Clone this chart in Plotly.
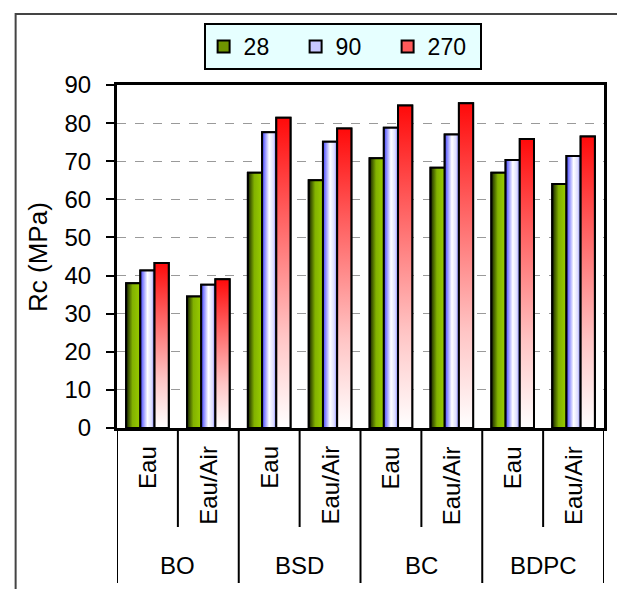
import plotly.graph_objects as go

# Compressive strength Rc (MPa) by concrete, curing condition and age (days)
groups = ["BO", "BSD", "BC", "BDPC"]
conditions = ["Eau", "Eau/Air"]
ages = ["28", "90", "270"]
rc_28 = [38.0, 34.5, 67.0, 65.0, 70.8, 68.3, 67.0, 64.0]
rc_90 = [41.3, 37.6, 77.6, 75.1, 78.8, 77.0, 70.3, 71.4]
rc_270 = [43.3, 39.0, 81.4, 78.6, 84.6, 85.2, 75.8, 76.5]
y_ticks = [0, 10, 20, 30, 40, 50, 60, 70, 80, 90]

series = [rc_28, rc_90, rc_270]
legend_colors = ["#6f9400", "#c8c8ff", "#ff5a5a"]
gradients = [
    dict(type="horizontal",
         colorscale=[[0, "#101800"], [0.15, "#3a5200"], [0.45, "#82b200"], [1, "#99cc00"]]),
    dict(type="horizontal",
         colorscale=[[0, "#4040ff"], [0.5, "#ffffff"], [0.8, "#dcdcff"], [1, "#7a7aff"]]),
    dict(type="vertical",
         colorscale=[[0, "#ffffff"], [0.3, "#ffc4c4"], [0.7, "#ff5c5c"], [1, "#ff0a0a"]]),
]

FONT = "Liberation Sans, Arial, sans-serif"
n_cat = len(groups) * len(conditions)
x_pos = list(range(n_cat))
bargap = 0.3
bar_w = (1 - bargap) / len(series)

fig = go.Figure()

# base bars (also provide the legend entries)
for k, (name, vals) in enumerate(zip(ages, series)):
    fig.add_trace(go.Bar(
        x=x_pos, y=vals, name=name,
        marker=dict(color=legend_colors[k], line=dict(color="black", width=2)),
        legendgroup=name,
    ))

# gradient-filled faces drawn over each bar
for k, vals in enumerate(series):
    off = (k - (len(series) - 1) / 2) * bar_w
    for i, v in zip(x_pos, vals):
        x0, x1 = i + off - bar_w / 2, i + off + bar_w / 2
        fig.add_trace(go.Scatter(
            x=[x0, x0, x1, x1, x0], y=[0, v, v, 0, 0],
            mode="lines", fill="toself",
            fillgradient=gradients[k],
            line=dict(color="black", width=2),
            showlegend=False, hoverinfo="skip", legendgroup=ages[k],
        ))

plot_h = 343.0
annotations = []
shapes = []

# first-level labels (curing condition), rotated
for i in x_pos:
    annotations.append(dict(
        text=conditions[i % 2], x=i, xref="x", y=-16 / plot_h, yref="paper",
        xanchor="center", yanchor="top", textangle=-90, showarrow=False,
        font=dict(family=FONT, size=24, color="black"),
    ))
# second-level labels (concrete)
for g, name in enumerate(groups):
    annotations.append(dict(
        text=name, x=2 * g + 0.5, xref="x", y=-137 / plot_h, yref="paper",
        xanchor="center", yanchor="middle", showarrow=False,
        font=dict(family=FONT, size=24, color="black"),
    ))
# y-axis title
annotations.append(dict(
    text="Rc (MPa)", x=-80 / 490, xref="paper", y=0.5, yref="paper",
    xanchor="center", yanchor="middle", textangle=-90, showarrow=False,
    font=dict(family=FONT, size=26, color="black"),
))

# category separators below the axis
for g in range(len(groups)):
    xm = 2 * g + 0.5
    shapes.append(dict(type="line", xref="x", yref="paper", x0=xm, x1=xm,
                       y0=0, y1=-99 / plot_h, line=dict(color="black", width=2)))
for g in range(len(groups) + 1):
    xb = 2 * g - 0.5
    shapes.append(dict(type="line", xref="x", yref="paper", x0=xb, x1=xb,
                       y0=0, y1=-155 / plot_h, line=dict(color="black", width=2)))

# outer chart frame
shapes.append(dict(type="rect", xref="paper", yref="paper",
                   x0=-102 / 490, x1=1.06, y0=-0.6, y1=414 / plot_h,
                   line=dict(color="#444444", width=2), fillcolor="rgba(0,0,0,0)",
                   layer="below"))

fig.update_layout(
    width=617, height=589,
    margin=dict(l=117, r=10, t=85, b=161),
    paper_bgcolor="white", plot_bgcolor="white",
    barmode="group", bargap=bargap, bargroupgap=0,
    font=dict(family=FONT, size=24, color="black"),
    showlegend=True,
    legend=dict(
        orientation="h", x=(344 - 117) / 490, xanchor="center",
        y=(428 - 23) / plot_h, yanchor="top",
        bgcolor="#e6ffff", bordercolor="black", borderwidth=2,
        font=dict(family=FONT, size=23, color="black"),
        entrywidth=47, itemsizing="constant",
    ),
    xaxis=dict(
        range=[-0.5, n_cat - 0.5], showticklabels=False, ticks="",
        showgrid=False, zeroline=False,
        showline=True, mirror=True, linecolor="black", linewidth=3,
    ),
    yaxis=dict(
        range=[0, 90], tickvals=y_ticks, ticks="outside", ticklen=8,
        tickwidth=2, tickcolor="black", ticklabelstandoff=10,
        tickfont=dict(family=FONT, size=24, color="black"),
        showgrid=True, gridcolor="#9a9a9a", griddash="dash", gridwidth=1,
        zeroline=False,
        showline=True, mirror=True, linecolor="black", linewidth=3,
    ),
    annotations=annotations,
    shapes=shapes,
)

fig.write_html("out.html")
